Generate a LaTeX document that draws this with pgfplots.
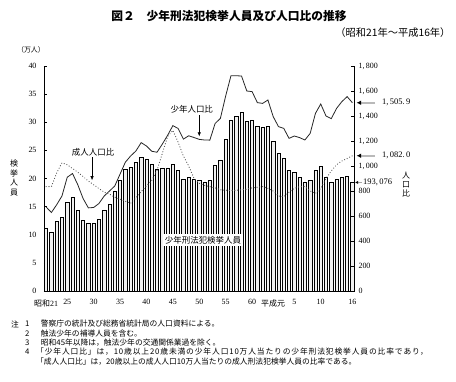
\documentclass[border=0pt]{standalone}
\usepackage{fontspec}
\setmainfont{Liberation Serif}
\newfontfamily\jp{Noto Sans CJK JP}
\newfontfamily\jpwide[LetterSpace=11]{Noto Sans CJK JP}
\usepackage{pgfplots}
\usepackage{pgfplotstable}
\pgfplotsset{compat=1.18}
\usetikzlibrary{arrows.meta}

\pgfplotstableread{
year val
1946 11.1
1947 10.5
1948 12.4
1949 13.1
1950 15.8
1951 16.7
1952 14.3
1953 12.6
1954 12.1
1955 12.1
1956 12.7
1957 14.4
1958 15.5
1959 17.7
1960 19.7
1961 21.7
1962 22.0
1963 22.9
1964 23.8
1965 23.5
1966 22.6
1967 21.6
1968 21.9
1969 21.9
1970 22.5
1971 21.5
1972 19.9
1973 20.2
1974 19.9
1975 19.6
1976 19.4
1977 19.7
1978 22.3
1979 23.3
1980 27.0
1981 30.4
1982 31.0
1983 31.7
1984 30.2
1985 30.4
1986 29.3
1987 29.1
1988 29.3
1989 26.6
1990 24.4
1991 23.6
1992 21.5
1993 21.1
1994 20.2
1995 19.4
1996 19.7
1997 21.5
1998 22.2
1999 20.2
2000 19.4
2001 19.9
2002 20.2
2003 20.4
2004 19.3
}\bars

\pgfplotstableread{
year val
1946 672
1947 628
1948 690
1949 760
1950 910
1951 940
1952 850
1953 740
1954 665
1955 668
1956 700
1957 760
1958 800
1959 840
1960 935
1961 1030
1962 1080
1963 1120
1964 1187
1965 1160
1966 1118
1967 1110
1968 1175
1969 1245
1970 1323
1971 1300
1972 1215
1973 1242
1974 1228
1975 1213
1976 1208
1977 1207
1978 1340
1979 1381
1980 1560
1981 1722
1982 1722
1983 1720
1984 1600
1985 1595
1986 1507
1987 1501
1988 1528
1989 1395
1990 1315
1991 1301
1992 1221
1993 1240
1994 1227
1995 1208
1996 1261
1997 1421
1998 1496
1999 1400
2000 1379
2001 1461
2002 1515
2003 1555
2004 1505.9
}\youth

\pgfplotstableread{
year val
1946 835
1947 835
1948 945
1949 1025
1950 1010
1951 980
1952 950
1953 915
1954 880
1955 850
1956 820
1957 790
1958 775
1959 750
1960 735
1961 718
1962 702
1963 745
1964 795
1965 840
1966 885
1967 965
1968 1100
1969 1235
1970 1285
1971 1190
1972 1080
1973 1000
1974 901
1975 861
1976 845
1977 835
1978 825
1979 810
1980 806
1981 805
1982 805
1983 810
1984 815
1985 825
1986 830
1987 835
1988 821
1989 800
1990 760
1991 755
1992 790
1993 821
1994 835
1995 835
1996 800
1997 781
1998 820
1999 900
2000 960
2001 1010
2002 1040
2003 1060
2004 1082.0
}\adult

\begin{document}
\begin{tikzpicture}
\useasboundingbox (0bp,0bp) rectangle (456bp,382bp);

% titles
\node[font=\jp\bfseries\fontsize{11.8}{13}\selectfont] at (229bp,366bp) {図２　少年刑法犯検挙人員及び人口比の推移};
\node[anchor=east, font=\jp\fontsize{10.3}{12}\selectfont] at (454bp,349bp) {（昭和21年～平成16年）};
\node[font=\jp\fontsize{7}{8}\selectfont] at (31bp,332bp) {（万人）};
\node[align=center, font=\jp\fontsize{8}{10}\selectfont] at (14bp,204bp) {検\\挙\\人\\員};
\node[align=center, font=\jp\fontsize{8}{9.5}\selectfont] at (406bp,197.5bp) {人\\口\\比};

\begin{axis}[
  at={(44bp,91bp)}, anchor=south west, scale only axis,
  width=310bp, height=225bp,
  xmin=1945.6, xmax=2004.3, ymin=0, ymax=40,
  axis x line*=bottom, axis y line*=left, axis line style={-, line width=0.8bp},
  ytick={0,5,...,40},
  xtick={1946,1950,1955,1960,1965,1970,1975,1980,1985,1989,1993,1998,2004},
  xticklabels={{\jp 昭和}21,25,30,35,40,45,50,55,60,{\jp 平成元},5,10,16},
  x tick style={draw=none},
  y tick style={line width=0.6bp, black},
  tick align=inside, major tick length=3bp,
  /pgf/number format/assume math mode=true,
  tick label style={font=\fontsize{8}{9}\selectfont},
  yticklabel style={xshift=-4bp},
  xticklabel style={yshift=-2bp},
  ybar, bar width=3.3bp,
  clip=false,
]
\addplot[draw=black, fill=gray!12, line width=0.6bp] table[x=year,y=val]{\bars};
\draw[gray!70, line width=1.2bp, -{Latex[black,length=3bp,width=3bp]}] ([xshift=8bp]axis cs:2004.3,19.3) -- ([xshift=1bp]axis cs:2004.3,19.3);
\node[anchor=west, inner sep=0pt, font=\fontsize{8.5}{10}\selectfont] at ([xshift=9bp]axis cs:2004.3,19.3) {193,\,076};
\end{axis}

\node[fill=white, inner sep=2pt, font=\jp\fontsize{8.5}{10}\selectfont] at (203bp,142bp) {少年刑法犯検挙人員};

\begin{axis}[
  at={(44bp,91bp)}, anchor=south west, scale only axis,
  width=310bp, height=225bp,
  xmin=1945.6, xmax=2004.3, ymin=0, ymax=1800,
  axis y line*=right, axis x line=none, axis line style={-, line width=0.8bp},
  ytick={0,200,...,1800},
  y tick style={line width=0.6bp, black},
  tick align=inside, major tick length=3bp,
  /pgf/number format/assume math mode=true,
  /pgf/number format/1000 sep={,\,},
  tick label style={font=\fontsize{8}{9}\selectfont},
  yticklabel style={xshift=1bp},
  clip=false,
]
\addplot[black!85, line width=0.8bp, mark=none] table[x=year,y=val]{\youth};
\addplot[black!65, line width=1.1bp, mark=none, line cap=round, dash pattern=on 0.2bp off 2.6bp] table[x=year,y=val]{\adult};
% right annotations
\draw[gray!55, line width=2.2bp, -{Latex[black,length=4.5bp,width=4.5bp]}] ([xshift=21bp]axis cs:2004.3,1505.9) -- ([xshift=2.5bp]axis cs:2004.3,1505.9);
\node[anchor=west, inner sep=0pt, font=\fontsize{8.5}{10}\selectfont] at ([xshift=28bp]axis cs:2004.3,1505.9) {1,\,505.\,9};
\draw[gray!55, line width=2.2bp, -{Latex[black,length=4.5bp,width=4.5bp]}] ([xshift=21bp]axis cs:2004.3,1082) -- ([xshift=2.5bp]axis cs:2004.3,1082);
\node[anchor=west, inner sep=0pt, font=\fontsize{8.5}{10}\selectfont] at ([xshift=28bp]axis cs:2004.3,1082) {1,\,082.\,0};
% series labels
\draw[line width=0.6bp, -{Latex[length=4bp,width=3.5bp]}] ([yshift=24bp]axis cs:1975,1213) -- ([yshift=3bp]axis cs:1975,1213);
\node[font=\jp\fontsize{8.5}{10}\selectfont] at ([xshift=-7.5bp,yshift=30bp]axis cs:1975,1213) {少年人口比};
\draw[line width=0.6bp, -{Latex[length=4bp,width=3.5bp]}] ([yshift=25bp]axis cs:1954.7,870) -- ([yshift=2bp]axis cs:1954.7,870);
\node[font=\jp\fontsize{8.5}{10}\selectfont] at ([xshift=1bp,yshift=30bp]axis cs:1954.7,870) {成人人口比};
\end{axis}

% notes
\begin{scope}[every node/.style={anchor=west, inner sep=0pt, font=\jp\fontsize{7.8}{9}\selectfont}]
\node at (11bp,58bp) {注};
\node at (25bp,58bp) {1};
\node at (25bp,48.7bp) {2};
\node at (25bp,39.7bp) {3};
\node at (25bp,30.3bp) {4};
\node at (40.7bp,58bp) {警察庁の統計及び総務省統計局の人口資料による。};
\node at (40.7bp,48.7bp) {触法少年の補導人員を含む。};
\node at (40.7bp,39.7bp) {昭和45年以降は，触法少年の交通関係業過を除く。};
\node[font=\jpwide\fontsize{7.8}{9}\selectfont] at (36bp,30.3bp) {「少年人口比」は，10歳以上20歳未満の少年人口10万人当たりの少年刑法犯検挙人員の比率であり，};
\node at (36bp,20.3bp) {「成人人口比」は，20歳以上の成人人口10万人当たりの成人刑法犯検挙人員の比率である。};
\end{scope}
\end{tikzpicture}
\end{document}
